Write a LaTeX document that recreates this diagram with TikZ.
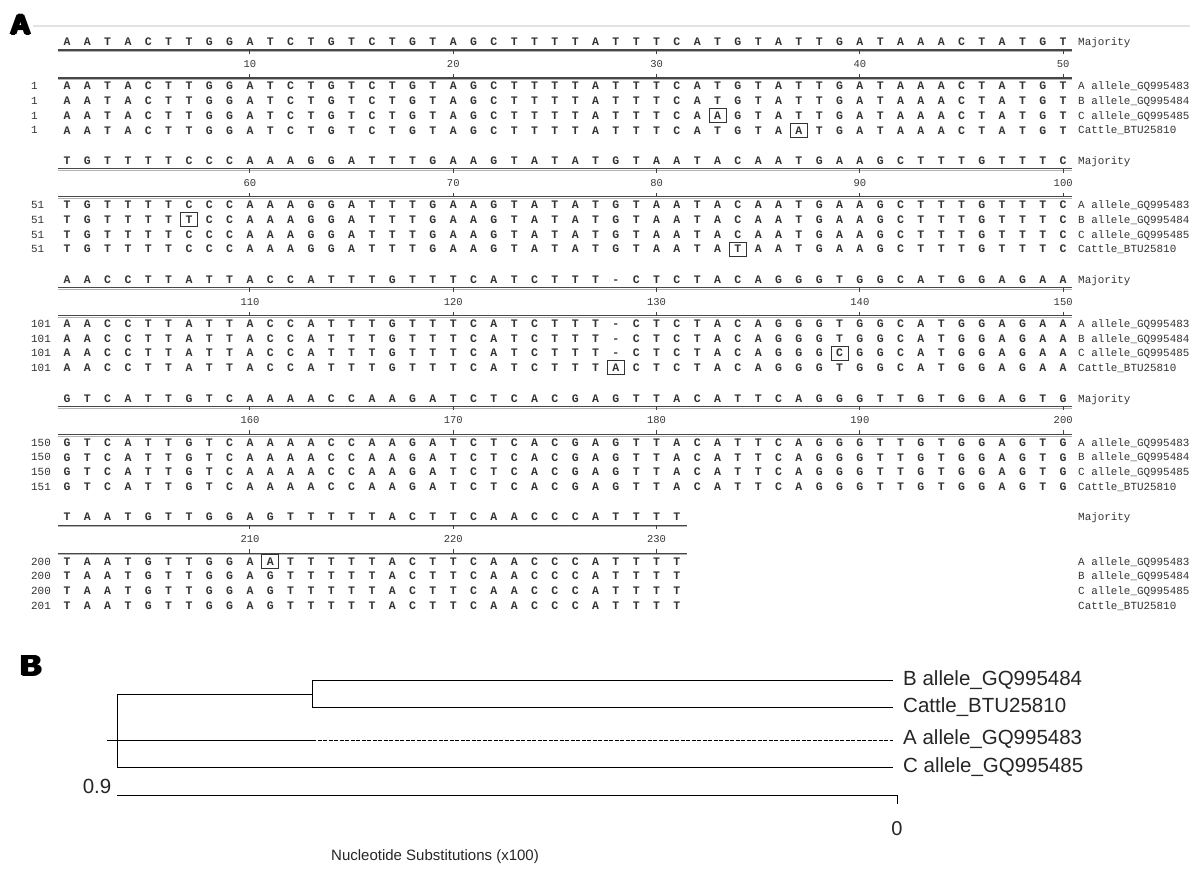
\documentclass[tikz,border=0pt]{standalone}
\usepackage{fontspec}
\setmainfont{Liberation Sans}
\newfontfamily\monof{Liberation Mono}
\newcommand\heavy[1]{\rlap{#1}\rlap{\kern1pt#1}\rlap{\kern2pt#1}\rlap{\kern3pt#1}\rlap{\raisebox{0.8pt}{\kern1.5pt#1}}\rlap{\raisebox{-0.8pt}{\kern1.5pt#1}}\phantom{#1}\kern3pt}
\newcommand\alblock[8]{%
  \pgfmathsetmacro\yo{42+118.8*#1}
  \foreach \ch [count=\i] in {#2} {
    \pgfmathsetmacro\xx{67+20.33*(\i-1)}
    \node[nt] (m#1-\i) at (\xx,\yo) {\ch};
    \foreach \r in {1,...,4} {\node[nt] (s#1-\r-\i) at (\xx,\yo+29.5+14.7*\r) {\ch};}
  }
  \coordinate (ta#1) at (58,\yo+8);  \coordinate (tb#1) at (#3,\yo+8);
  \coordinate (ba#1) at (58,\yo+36); \coordinate (bb#1) at (#3,\yo+36);
  \draw[ruler] (ta#1) -- (tb#1);
  \draw[rulersh] ([yshift=-1.6pt]ta#1) -- ([yshift=-1.6pt]tb#1);
  \draw[ruler] (ba#1) -- (bb#1);
  \draw[rulersh] ([yshift=-1.6pt]ba#1) -- ([yshift=-1.6pt]bb#1);
  \foreach \t in {1,...,#4} {
    \pgfmathsetmacro\xt{67+20.33*(10*\t-1)}
    \pgfmathtruncatemacro\nn{50*#1+10*\t}
    \coordinate (tk#1-\t) at (\xt,\yo+8);
    \coordinate (bk#1-\t) at (\xt,\yo+36);
    \draw[tick] (tk#1-\t) -- ++(0,4);
    \draw[tick] (bk#1-\t) -- ++(0,-4);
    \node[numl] (n#1-\t) at (\xt,\yo+22) {\nn};
  }
  \node[lab] (maj#1) at (1078,\yo) {Majority};
  \node[lab] (la#1) at (1078,\yo+44.2) {A allele\_GQ995483};
  \node[lab] (lb#1) at (1078,\yo+58.9) {B allele\_GQ995484};
  \node[lab] (lc#1) at (1078,\yo+73.6) {C allele\_GQ995485};
  \node[lab] (ld#1) at (1078,\yo+88.3) {Cattle\_BTU25810};
  \node[lab] (ra#1) at (31,\yo+44.2) {#5};
  \node[lab] (rb#1) at (31,\yo+58.9) {#6};
  \node[lab] (rc#1) at (31,\yo+73.6) {#7};
  \node[lab] (rd#1) at (31,\yo+88.3) {#8};
}
\newcommand\markbox[4]{% block, row, col, letter
  \pgfmathsetmacro\yo{42+118.8*#1}
  \node[boxed] (x#1-#2-#3) at ({67+20.33*(#3-1)},\yo+29.5+14.7*#2) {#4};
}
\begin{document}
\begin{tikzpicture}[x=1pt,y=-1pt,
  nt/.style={font=\monof\bfseries\fontsize{11.5}{11.5}\selectfont, text=black!80, inner sep=0pt, text height=7.5pt, text depth=0pt},
  boxed/.style={nt, draw=black!80, line width=1pt, fill=white, minimum width=17pt, minimum height=14pt},
  lab/.style={font=\monof\fontsize{10.9}{10.9}\selectfont, text=black!80, inner sep=0pt, anchor=west, text height=7.2pt, text depth=0pt},
  numl/.style={font=\monof\fontsize{10.5}{10.5}\selectfont, text=black!78, inner sep=0pt, text height=7pt, text depth=0pt},
  ruler/.style={draw=black!72, line width=1.2pt},
  rulersh/.style={draw=black!30, line width=0.9pt},
  tick/.style={draw=black!75, line width=1pt},
  tl/.style={font=\fontsize{20.5}{20.5}\selectfont, inner sep=0pt, anchor=west, text=black!85},
  br/.style={draw=black, line width=0.9pt},
  panel/.style={font=\bfseries\fontsize{28}{28}\selectfont, inner sep=0pt}]
\clip (0,0) rectangle (1190,873);
\fill[white] (0,0) rectangle (1190,873);
\draw[gray!22, line width=1.6pt] (33,26) -- (1190,26);
\node[panel] (pA) at (20.5,25) {\heavy{A}};
\alblock{0}{A,A,T,A,C,T,T,G,G,A,T,C,T,G,T,C,T,G,T,A,G,C,T,T,T,T,A,T,T,T,C,A,T,G,T,A,T,T,G,A,T,A,A,A,C,T,A,T,G,T}{1072}{5}{1}{1}{1}{1}
\alblock{1}{T,G,T,T,T,T,C,C,C,A,A,A,G,G,A,T,T,T,G,A,A,G,T,A,T,A,T,G,T,A,A,T,A,C,A,A,T,G,A,A,G,C,T,T,T,G,T,T,T,C}{1072}{5}{51}{51}{51}{51}
\alblock{2}{A,A,C,C,T,T,A,T,T,A,C,C,A,T,T,T,G,T,T,T,C,A,T,C,T,T,T,-,C,T,C,T,A,C,A,G,G,G,T,G,G,C,A,T,G,G,A,G,A,A}{1072}{5}{101}{101}{101}{101}
\alblock{3}{G,T,C,A,T,T,G,T,C,A,A,A,A,C,C,A,A,G,A,T,C,T,C,A,C,G,A,G,T,T,A,C,A,T,T,C,A,G,G,G,T,T,G,T,G,G,A,G,T,G}{1072}{5}{150}{150}{150}{151}
\alblock{4}{T,A,A,T,G,T,T,G,G,A,G,T,T,T,T,T,A,C,T,T,C,A,A,C,C,C,A,T,T,T,T}{687}{3}{200}{200}{200}{201}
\markbox{0}{3}{33}{A}
\markbox{0}{4}{37}{A}
\markbox{1}{2}{7}{T}
\markbox{1}{4}{34}{T}
\markbox{2}{4}{28}{A}
\markbox{2}{3}{39}{C}
\markbox{4}{1}{11}{A}
% panel B
\node[panel, font=\bfseries\fontsize{29}{29}\selectfont] (pB) at (31,666) {\heavy{B}};
\coordinate (r1) at (117,694);
\coordinate (r2) at (117,767);
\coordinate (stub) at (107,740);
\coordinate (n1) at (312,694);
\coordinate (n1t) at (312,680);
\coordinate (n1b) at (312,707);
\coordinate (na) at (312,740);
\coordinate (eb) at (893,680);
\coordinate (ec) at (893,707);
\coordinate (ea) at (893,740);
\coordinate (ecc) at (893,767);
\node[tl] (lB) at (903,680) {B allele\_GQ995484};
\node[tl] (lCt) at (903,707) {Cattle\_BTU25810};
\node[tl] (lA) at (903,739) {A allele\_GQ995483};
\node[tl] (lC) at (903,767) {C allele\_GQ995485};
\draw[br] (r1) -- (r2);
\draw[br] (r1) -- (n1);
\draw[br] (n1t) -- (n1b);
\draw[br] (n1t) -- (eb);
\draw[br] (n1b) -- (ec);
\draw[br] (stub) -- (na);
\draw[br, dash pattern=on 4pt off 1.5pt] (na) -- (ea);
\draw[br] (r2) -- (ecc);
\coordinate (s0) at (117,795);
\coordinate (s1) at (897,795);
\draw[br] (s0) -- (s1) -- ++(0,9);
\node[font=\fontsize{20.5}{20.5}\selectfont, inner sep=0pt, text=black!85] (s09) at (97,786) {0.9};
\node[font=\fontsize{20}{20}\selectfont, inner sep=0pt, text=black!85] (s0l) at (897,829) {0};
\node[font=\fontsize{15}{15}\selectfont, inner sep=0pt, text=black!85] (ttl) at (435,857) {Nucleotide Substitutions (x100)};
\end{tikzpicture}
\end{document}
